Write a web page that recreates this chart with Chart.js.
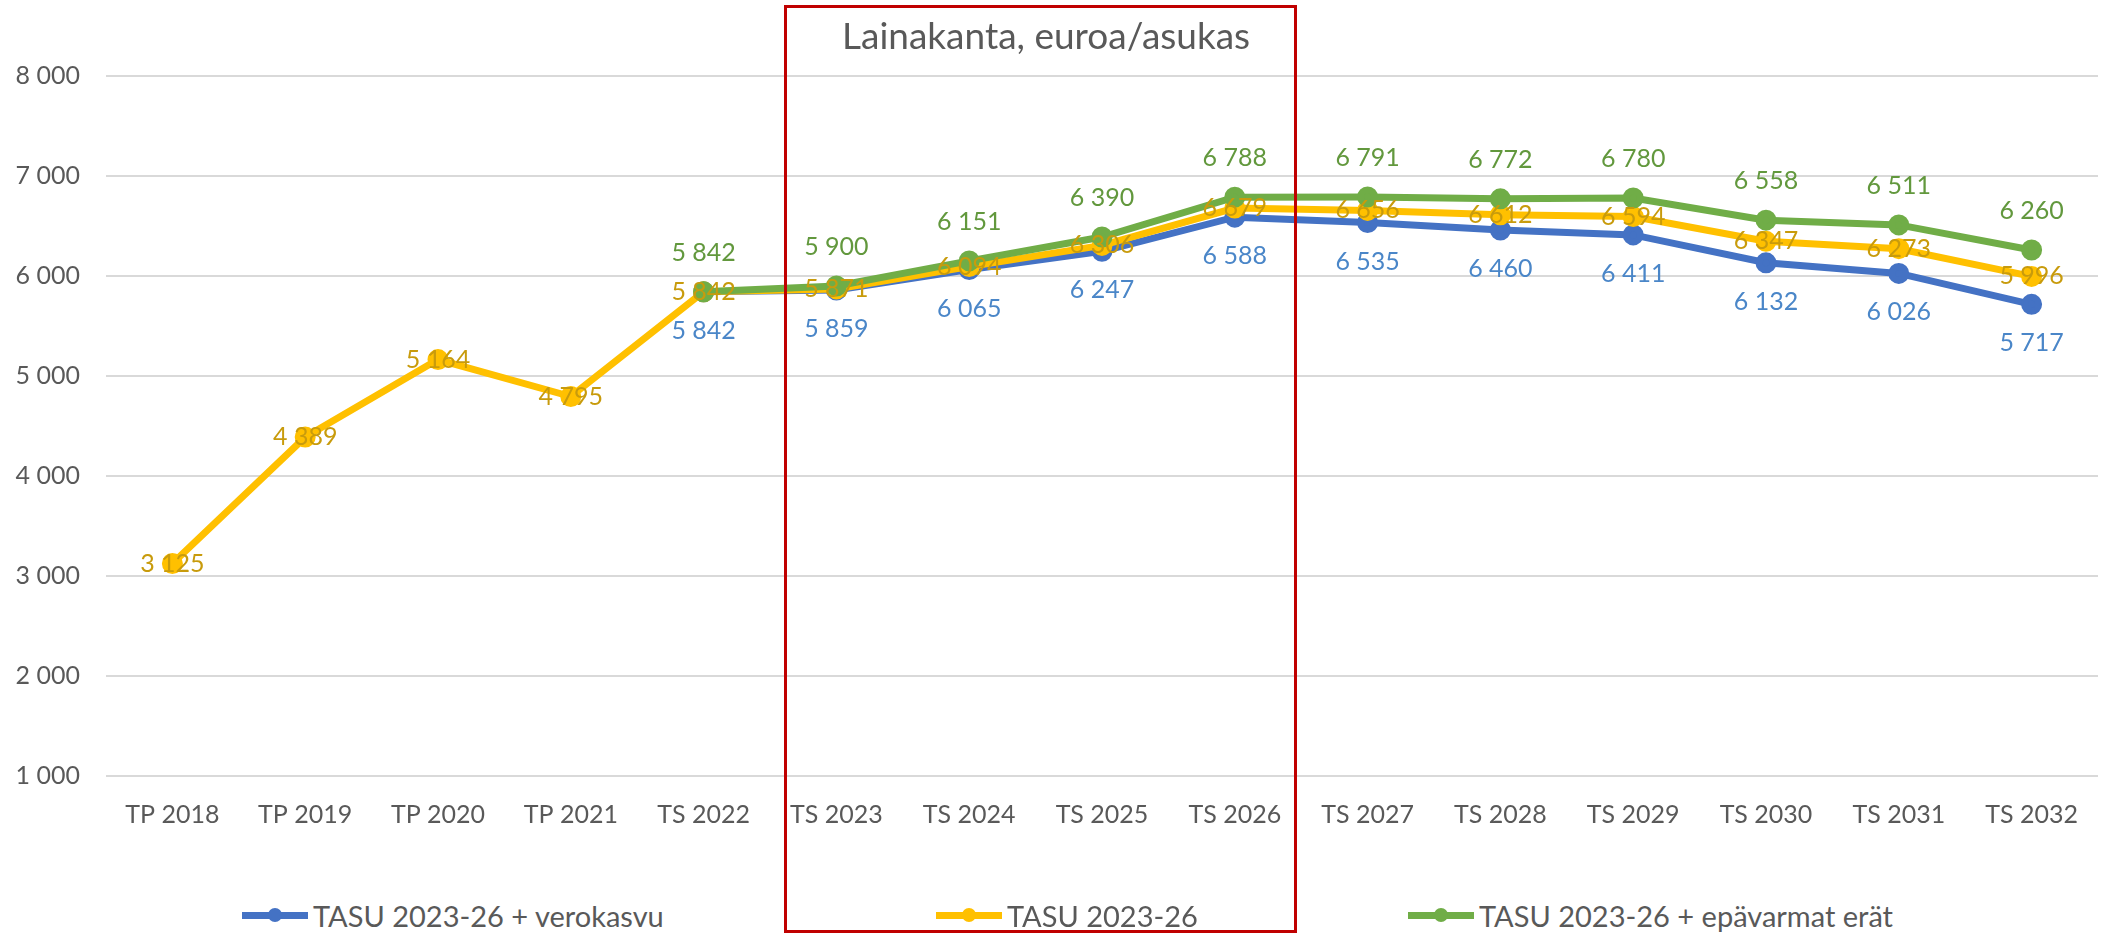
<!DOCTYPE html>
<html>
<head>
<meta charset="utf-8">
<script src="https://cdn.jsdelivr.net/npm/chart.js@4"></script>
<style>
  body { margin: 0; background: #fff; font-family: Lato, sans-serif; }
  #wrap { position: relative; width: 2112px; height: 935px; overflow: hidden; }
  #title { position: absolute; left: 842px; top: 12px; font-size: 37px; color: #595959; white-space: nowrap; }
  #frame { position: absolute; left: 784px; top: 5px; width: 507px; height: 922px; border: 3px solid #C00000; pointer-events: none; }
  .leg { position: absolute; top: 898px; height: 34px; display: flex; align-items: center; font-size: 29px; color: #595959; white-space: nowrap; }
  .mk { position: relative; width: 66px; height: 7px; margin-right: 5px; }
  .mk i { position: absolute; left: 26px; top: -4px; width: 14px; height: 14px; border-radius: 50%; }
</style>
</head>
<body>
<div id="wrap">
  <canvas id="mainChart" width="2112" height="870"></canvas>
  <div id="title">Lainakanta, euroa/asukas</div>
  <div id="frame"></div>
  <div class="leg" style="left:242px"><span class="mk" style="background:#4472C4"><i style="background:#4472C4"></i></span>TASU 2023-26 + verokasvu</div>
  <div class="leg" style="left:936px"><span class="mk" style="background:#FFC000"><i style="background:#FFC000"></i></span>TASU 2023-26</div>
  <div class="leg" style="left:1408px"><span class="mk" style="background:#70AD47"><i style="background:#70AD47"></i></span>TASU 2023-26 + epävarmat erät</div>
</div>
<script>
const years = ["TP 2018", "TP 2019", "TP 2020", "TP 2021", "TS 2022", "TS 2023", "TS 2024", "TS 2025",
  "TS 2026", "TS 2027", "TS 2028", "TS 2029", "TS 2030", "TS 2031", "TS 2032"];

const verokasvu = [null, null, null, null, 5842, 5859, 6065, 6247, 6588, 6535, 6460, 6411, 6132, 6026, 5717];
const tasu = [3125, 4389, 5164, 4795, 5842, 5871, 6094, 6306, 6679, 6656, 6612, 6594, 6347, 6273, 5996];
const epavarmat = [null, null, null, null, 5842, 5900, 6151, 6390, 6788, 6791, 6772, 6780, 6558, 6511, 6260];

const seriesNames = ["TASU 2023-26 + verokasvu", "TASU 2023-26", "TASU 2023-26 + epävarmat erät"];

function fmt(v) {
  // finnish thousands separator
  return String(v).replace(/\B(?=(\d{3})+(?!\d))/g, " ");
}

const FONT = "Lato";

const pointLabels = {
  id: "pointLabels",
  afterDatasetsDraw(chart) {
    const ctx = chart.ctx;
    ctx.save();
    ctx.font = "25px " + FONT;
    ctx.textAlign = "center";
    ctx.textBaseline = "middle";
    chart.data.datasets.forEach((ds, i) => {
      const meta = chart.getDatasetMeta(i);
      ctx.fillStyle = ds.labelColor;
      meta.data.forEach((pt, j) => {
        const v = ds.data[j];
        if (v == null) return;
        ctx.fillText(fmt(v), pt.x, pt.y + ds.labelOffset);
      });
    });
    ctx.restore();
  }
};

function line(label, data, color, labelColor, labelOffset, order) {
  return {
    label: label,
    data: data,
    borderColor: color,
    backgroundColor: color,
    pointBackgroundColor: color,
    pointBorderColor: color,
    borderWidth: 7,
    pointRadius: 7,
    pointHoverRadius: 7,
    tension: 0,
    labelColor: labelColor,
    labelOffset: labelOffset,
    order: order
  };
}

new Chart("mainChart", {
  type: "line",
  data: {
    labels: years,
    datasets: [
      line(seriesNames[0], verokasvu, "#4472C4", "#4A86C8", 39, 3),
      line(seriesNames[1], tasu, "#FFC000", "#C89B0C", 0, 2),
      line(seriesNames[2], epavarmat, "#70AD47", "#62983D", -39, 1)
    ]
  },
  options: {
    responsive: false,
    animation: false,
    layout: { padding: { top: 76, right: 3, left: 0, bottom: 34 } },
    plugins: {
      legend: { display: false },
      tooltip: { enabled: false }
    },
    scales: {
      x: {
        offset: true,
        grid: { display: false, drawTicks: false },
        border: { display: false },
        ticks: { padding: 24, color: "#595959", font: { family: FONT, size: 25 } },
        afterFit(s) { s.height = 60; }
      },
      y: {
        min: 1000,
        max: 8000,
        grid: { color: "#D9D9D9", lineWidth: 2, drawTicks: false },
        border: { display: false },
        ticks: {
          stepSize: 1000,
          padding: 26,
          color: "#595959",
          font: { family: FONT, size: 25 },
          callback: (v) => fmt(v)
        },
        afterFit(s) { s.width = 106; }
      }
    }
  },
  plugins: [pointLabels]
});
</script>
</body>
</html>
